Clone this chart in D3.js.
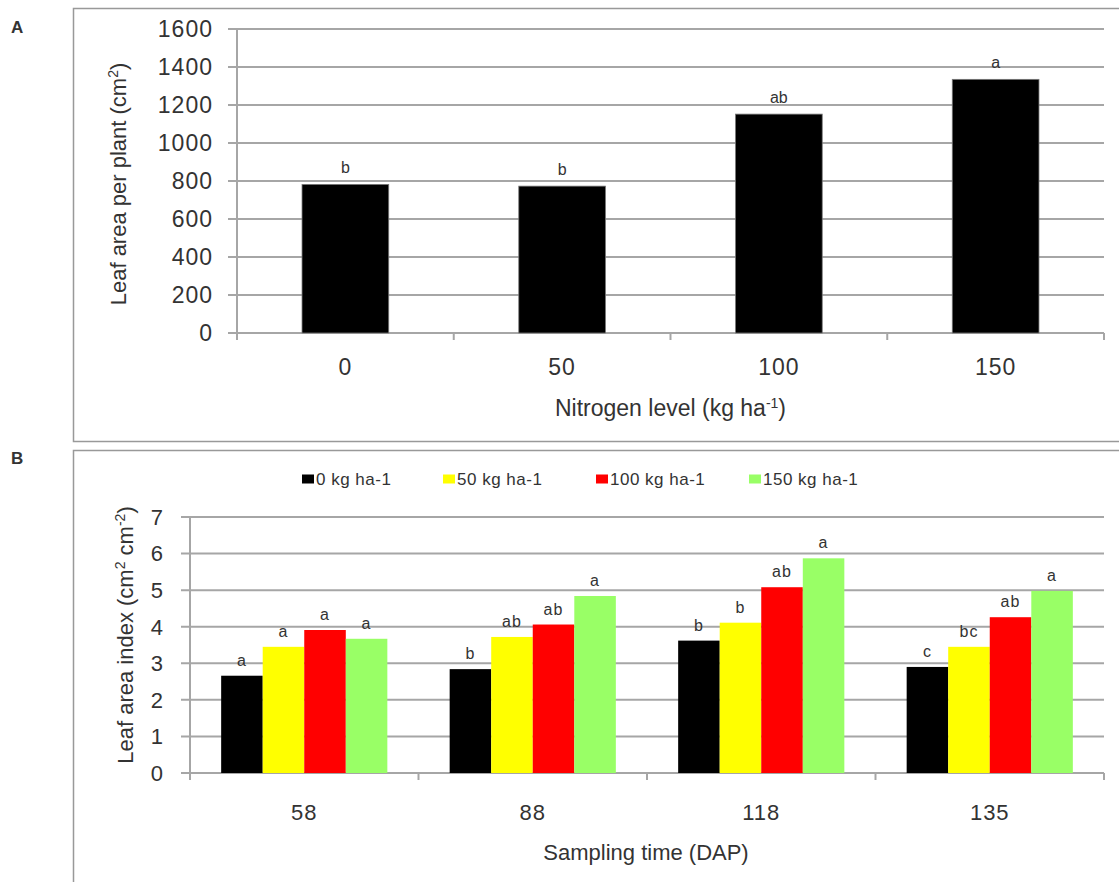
<!DOCTYPE html>
<html>
<head>
<meta charset="utf-8">
<script src="https://cdn.jsdelivr.net/npm/d3@7"></script>
<style>
  body { margin: 0; background: #fff; }
  svg text { font-family: "Liberation Sans", Arial, sans-serif; fill: #333; }
</style>
</head>
<body>
<div id="main"></div>
<script>
// panel A: leaf area per plant by nitrogen level
var nitrogenLevels = ["0", "50", "100", "150"];
var leafArea = [782, 773, 1152, 1335];
var leafAreaLetters = ["b", "b", "ab", "a"];
var leafAreaTicks = [0, 200, 400, 600, 800, 1000, 1200, 1400, 1600];

// panel B: leaf area index by sampling time
var samplingTimes = ["58", "88", "118", "135"];
var seriesNames = ["0 kg ha-1", "50 kg ha-1", "100 kg ha-1", "150 kg ha-1"];
var seriesColors = ["#000000", "#ffff00", "#ff0000", "#99ff66"];
var lai0 = [2.66, 2.84, 3.62, 2.90];
var lai50 = [3.45, 3.72, 4.11, 3.45];
var lai100 = [3.91, 4.06, 5.08, 4.26];
var lai150 = [3.67, 4.84, 5.87, 4.98];
var laiLetters0 = ["a", "b", "b", "c"];
var laiLetters50 = ["a", "ab", "b", "bc"];
var laiLetters100 = ["a", "ab", "ab", "ab"];
var laiLetters150 = ["a", "a", "a", "a"];
var laiTicks = [0, 1, 2, 3, 4, 5, 6, 7];

var grid = "#a6a6a6";
var svg = d3.select("#main").append("svg").attr("width", 1119).attr("height", 882);

// panel frames
svg.append("rect").attr("x", 73.5).attr("y", 8.5).attr("width", 1100).attr("height", 433)
  .attr("fill", "none").attr("stroke", "#999").attr("stroke-width", 1.5);
svg.append("rect").attr("x", 73.5).attr("y", 450.5).attr("width", 1100).attr("height", 500)
  .attr("fill", "none").attr("stroke", "#999").attr("stroke-width", 1.5);
svg.append("text").attr("x", 11).attr("y", 33).attr("font-size", 17).attr("font-weight", "bold").text("A");
svg.append("text").attr("x", 11).attr("y", 464).attr("font-size", 17).attr("font-weight", "bold").text("B");

function drawFrame(g, x, y, ticks, w, h, fs, gap) {
  // gridlines with outside tick marks
  g.selectAll(".grid").data(ticks).enter().append("line")
    .attr("x1", -9).attr("x2", w)
    .attr("y1", function(d) { return y(d); }).attr("y2", function(d) { return y(d); })
    .attr("stroke", grid).attr("stroke-width", 2);
  g.selectAll(".ytick").data(ticks).enter().append("text")
    .attr("x", -gap).attr("y", function(d) { return y(d); })
    .attr("dy", "0.36em").attr("text-anchor", "end").attr("font-size", fs)
    .attr("letter-spacing", 1).text(function(d) { return d; });
  g.append("line").attr("x1", 0).attr("x2", 0).attr("y1", 0).attr("y2", h + 6)
    .attr("stroke", grid).attr("stroke-width", 2);
  g.append("line").attr("x1", -9).attr("x2", w).attr("y1", h).attr("y2", h)
    .attr("stroke", grid).attr("stroke-width", 2);
  var bounds = x.domain().map(function(d) { return x(d) - x.step() * x.paddingOuter(); });
  bounds.push(w);
  g.selectAll(".xtick").data(bounds).enter().append("line")
    .attr("x1", function(d) { return d; }).attr("x2", function(d) { return d; })
    .attr("y1", h).attr("y2", h + 7).attr("stroke", grid).attr("stroke-width", 2);
}

// ---- panel A ----
(function() {
  var w = 867, h = 304;
  var g = svg.append("g").attr("transform", "translate(237,29)");
  var x = d3.scaleBand().domain(nitrogenLevels).range([0, w]).paddingInner(0.6).paddingOuter(0.3);
  var y = d3.scaleLinear().domain([0, 1600]).range([h, 0]);
  drawFrame(g, x, y, leafAreaTicks, w, h, 23, 24);

  g.selectAll(".bar").data(leafArea).enter().append("rect")
    .attr("x", function(d, i) { return x(nitrogenLevels[i]); })
    .attr("y", function(d) { return y(d); })
    .attr("width", x.bandwidth())
    .attr("height", function(d) { return h - y(d); })
    .attr("fill", "#000").attr("stroke", "#777").attr("stroke-width", 0.8);

  g.selectAll(".lab").data(leafArea).enter().append("text")
    .attr("x", function(d, i) { return x(nitrogenLevels[i]) + x.bandwidth() / 2; })
    .attr("y", function(d) { return y(d) - 11; })
    .attr("text-anchor", "middle").attr("font-size", 16)
    .text(function(d, i) { return leafAreaLetters[i]; });

  g.selectAll(".xlab").data(nitrogenLevels).enter().append("text")
    .attr("x", function(d) { return x(d) + x.bandwidth() / 2; })
    .attr("y", h + 34).attr("dy", "0.36em").attr("text-anchor", "middle")
    .attr("font-size", 23).attr("letter-spacing", 1).text(function(d) { return d; });

  var xt = g.append("text").attr("x", w / 2).attr("y", h + 75).attr("dy", "0.36em")
    .attr("text-anchor", "middle").attr("font-size", 23);
  xt.append("tspan").text("Nitrogen level (kg ha");
  xt.append("tspan").attr("baseline-shift", "super").attr("font-size", 14).text("-1");
  xt.append("tspan").text(")");

  var yt = g.append("text").attr("transform", "translate(-119," + (h / 2 + 3) + ") rotate(-90)")
    .attr("text-anchor", "middle").attr("dy", "0.36em").attr("font-size", 22);
  yt.append("tspan").text("Leaf area per plant (cm");
  yt.append("tspan").attr("baseline-shift", "super").attr("font-size", 14).text("2");
  yt.append("tspan").text(")");
})();

// ---- panel B ----
(function() {
  var w = 914, h = 256;
  var g = svg.append("g").attr("transform", "translate(190,517)");
  var x = d3.scaleBand().domain(samplingTimes).range([0, w]).paddingInner(1.5 / 5.5).paddingOuter(0.75 / 5.5);
  var xs = d3.scaleBand().domain(seriesNames).range([0, x.bandwidth()]);
  var y = d3.scaleLinear().domain([0, 7]).range([h, 0]);
  drawFrame(g, x, y, laiTicks, w, h, 22, 26);

  var series = [lai0, lai50, lai100, lai150];
  var letters = [laiLetters0, laiLetters50, laiLetters100, laiLetters150];

  series.forEach(function(vals, s) {
    var sg = g.append("g");
    sg.selectAll("rect").data(vals).enter().append("rect")
      .attr("x", function(d, i) { return x(samplingTimes[i]) + xs(seriesNames[s]); })
      .attr("y", function(d) { return y(d); })
      .attr("width", xs.bandwidth())
      .attr("height", function(d) { return h - y(d); })
      .attr("fill", seriesColors[s]);
    sg.selectAll("text").data(vals).enter().append("text")
      .attr("x", function(d, i) { return x(samplingTimes[i]) + xs(seriesNames[s]) + xs.bandwidth() / 2; })
      .attr("y", function(d) { return y(d) - 10; })
      .attr("text-anchor", "middle").attr("font-size", 16).attr("letter-spacing", 1)
      .text(function(d, i) { return letters[s][i]; });
  });

  g.selectAll(".xlab").data(samplingTimes).enter().append("text")
    .attr("x", function(d) { return x(d) + x.bandwidth() / 2; })
    .attr("y", h + 39).attr("dy", "0.36em").attr("text-anchor", "middle")
    .attr("font-size", 22).attr("letter-spacing", 1).text(function(d) { return d; });

  g.append("text").attr("x", w / 2 - 1).attr("y", h + 79).attr("dy", "0.36em")
    .attr("text-anchor", "middle").attr("font-size", 22).text("Sampling time (DAP)");

  var yt = g.append("text").attr("transform", "translate(-65," + (h / 2 - 10) + ") rotate(-90)")
    .attr("text-anchor", "middle").attr("dy", "0.36em").attr("font-size", 22);
  yt.append("tspan").text("Leaf area index (cm");
  yt.append("tspan").attr("baseline-shift", "super").attr("font-size", 14).text("2");
  yt.append("tspan").text(" cm");
  yt.append("tspan").attr("baseline-shift", "super").attr("font-size", 14).text("-2");
  yt.append("tspan").text(")");

  // legend
  var legX = [302, 443, 596, 749];
  var leg = svg.append("g").attr("transform", "translate(0,479)");
  var items = leg.selectAll("g").data(seriesNames).enter().append("g")
    .attr("transform", function(d, i) { return "translate(" + legX[i] + ",0)"; });
  items.append("rect").attr("x", 0).attr("y", -4.5).attr("width", 12).attr("height", 9)
    .attr("fill", function(d, i) { return seriesColors[i]; });
  items.append("text").attr("x", 14).attr("dy", "0.36em").attr("font-size", 17)
    .attr("letter-spacing", 0.5).text(function(d) { return d; });
})();
</script>
</body>
</html>
